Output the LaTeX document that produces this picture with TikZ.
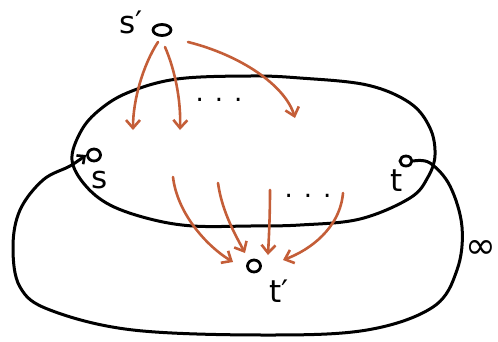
\documentclass[tikz,border=0pt]{standalone}
\usepackage{fontspec}
\setmainfont{DejaVu Sans}
\usetikzlibrary{shapes.geometric,arrows.meta}
\definecolor{flow}{RGB}{196,94,56}
\begin{document}
\begin{tikzpicture}[x=1pt,y=-1pt,
  blk/.style={line width=3pt,line cap=round,line join=round},
  fl/.style={draw=flow,line width=2.6pt,line cap=round,-{Straight Barb[length=8pt,width=14pt,line width=2.6pt]}},
  vtx/.style={draw,ellipse,line width=2.8pt,inner sep=0pt},
  lbl/.style={font=\fontsize{31}{31}\selectfont,inner sep=0pt},
  dotsl/.style={font=\fontsize{26}{26}\selectfont,inner sep=0pt}]
\useasboundingbox (0,0) rectangle (498,341);
% vertices
\node[vtx,minimum width=18pt,minimum height=11pt] (sp) at (162,30) {};
\node[vtx,minimum width=13pt,minimum height=12pt] (s) at (94,155) {};
\node[vtx,minimum width=12pt,minimum height=10pt] (t) at (406,161) {};
\node[vtx,minimum width=13pt,minimum height=12pt] (tp) at (254,266) {};
% labels
\node[lbl] (lsp) at (131,22) {s′};
\node[lbl] (ls) at (100,180) {s};
\node[lbl] (lt) at (397,181) {t};
\node[lbl] (ltp) at (279,291) {t′};
\node[font=\fontsize{37}{37}\selectfont,inner sep=0pt,anchor=east] (linf) at (497,249) {∞};
% inner set
\draw[blk] plot[smooth cycle,tension=0.6] coordinates {(72,160) (80,133) (97,112) (127,93) (177,79) (250,76) (300,78) (367,85) (410,103) (430,128) (435,155) (428,177) (410,198) (360,219) (300,225) (250,226) (193,226) (150,219) (110,205) (85,185)};
% outer infinite edge t -> s
\draw[blk,-{Straight Barb[length=6pt,width=11pt,line width=2.6pt]}] plot[smooth,tension=0.6] coordinates {(t.east) (430,163) (450,186) (462,227) (457,270) (433,307) (367,330) (267,335) (133,330) (50,310) (20,287) (13,247) (20,210) (43,180) (70,166) (s.west)};
% arrows from s'
\coordinate (a1) at (133,130);
\coordinate (a2) at (180,130);
\coordinate (a3) at (295,118);
\draw[fl] (158,42) .. controls (143,65) and (133,100) .. (a1);
\draw[fl] (165,47) .. controls (175,70) and (181,100) .. (a2);
\draw[fl] (188,42) .. controls (240,55) and (285,85) .. (a3);
\node[dotsl] (d1) at (219,100) {.\hspace{11pt}.\hspace{11pt}.};
% arrows into t'
\coordinate (b1) at (173,177);
\coordinate (b2) at (218,183);
\coordinate (b3) at (270,190);
\coordinate (b4) at (343,193);
\coordinate (e1) at (233,262);
\coordinate (e2) at (245,253);
\coordinate (e3) at (268,255);
\coordinate (e4) at (283,260);
\draw[fl] (b1) .. controls (177,212) and (205,245) .. (e1);
\draw[fl] (b2) .. controls (222,212) and (236,236) .. (e2);
\draw[fl] (b3) .. controls (270,215) and (269,235) .. (e3);
\draw[fl] (b4) .. controls (340,228) and (310,250) .. (e4);
\node[dotsl] (d2) at (308,196) {.\hspace{11pt}.\hspace{11pt}.};
\end{tikzpicture}
\end{document}
